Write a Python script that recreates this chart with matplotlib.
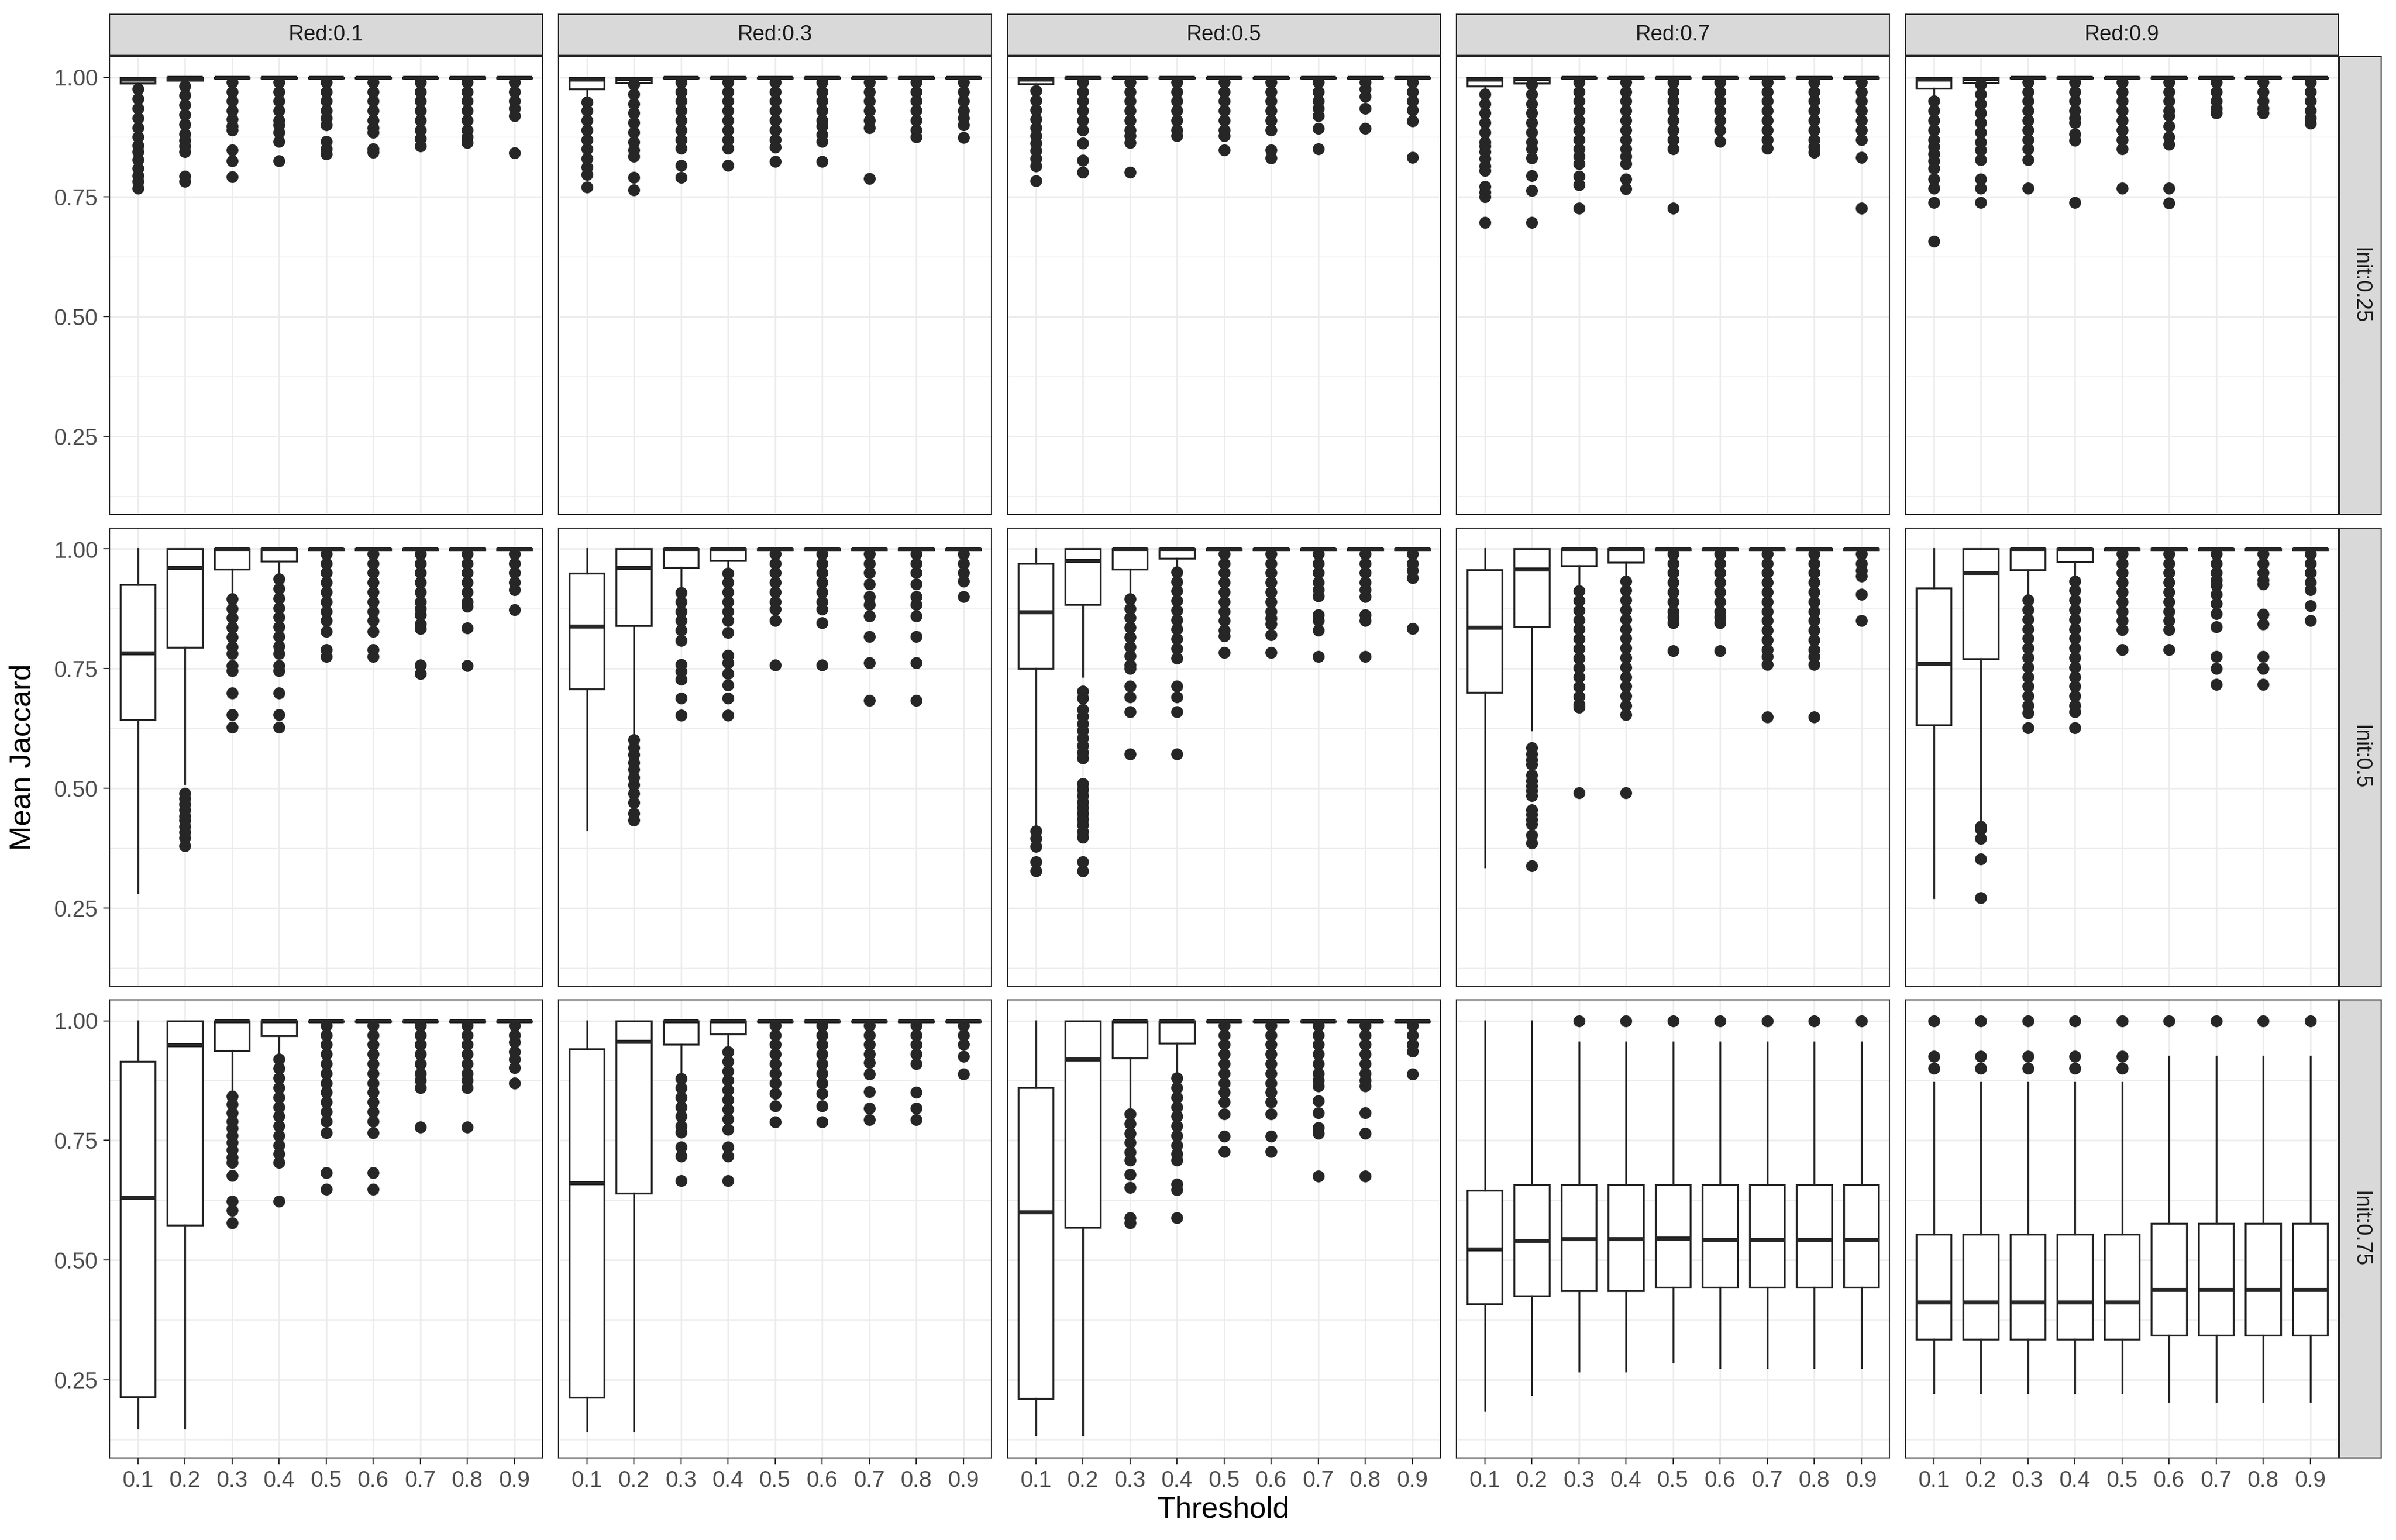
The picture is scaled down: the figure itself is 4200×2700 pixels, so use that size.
import matplotlib.pyplot as plt

thresholds = ["0.1", "0.2", "0.3", "0.4", "0.5", "0.6", "0.7", "0.8", "0.9"]
red_labels = ["Red:0.1", "Red:0.3", "Red:0.5", "Red:0.7", "Red:0.9"]
init_labels = ["Init:0.25", "Init:0.5", "Init:0.75"]

T = 0.998  # lower edge of the collapsed boxes sitting at 1.0

# ---- Init 0.25 : one row of 9 values per Red level ----
lo_25 = [[.978, .993, T, T, T, T, T, T, T],
         [.953, .989, T, T, T, T, T, T, T],
         [.975, T, T, T, T, T, T, T, T],
         [.969, .988, T, T, T, T, T, T, T],
         [.953, .989, T, T, T, T, T, T, T]]
q1_25 = [[.988, .993, T, T, T, T, T, T, T],
         [.976, .989, T, T, T, T, T, T, T],
         [.986, T, T, T, T, T, T, T, T],
         [.981, .988, T, T, T, T, T, T, T],
         [.977, .989, T, T, T, T, T, T, T]]
med_25 = [[.996, .999, 1, 1, 1, 1, 1, 1, 1],
          [.996, .997, 1, 1, 1, 1, 1, 1, 1],
          [.996, 1, 1, 1, 1, 1, 1, 1, 1],
          [.996, .997, 1, 1, 1, 1, 1, 1, 1],
          [.996, .997, 1, 1, 1, 1, 1, 1, 1]]
q3_25 = [[1] * 9 for _ in range(5)]
hi_25 = [[1] * 9 for _ in range(5)]
out_25 = [
    [[.975, .955, .935, .915, .895, .875, .858, .845, .828, .81, .795, .782, .768],
     [.982, .962, .942, .922, .902, .882, .868, .856, .845, .793, .783],
     [.99, .97, .95, .93, .912, .898, .89, .848, .825, .792],
     [.99, .97, .95, .93, .91, .9, .885, .866, .825],
     [.99, .97, .95, .93, .915, .901, .866, .85, .84],
     [.99, .97, .95, .93, .91, .895, .885, .85, .843],
     [.99, .97, .95, .93, .91, .89, .872, .856],
     [.99, .97, .95, .93, .91, .89, .875, .863],
     [.99, .97, .95, .935, .92, .842]],
    [[.948, .93, .91, .89, .87, .85, .83, .812, .797, .771],
     [.985, .965, .945, .925, .905, .885, .865, .848, .835, .791, .765],
     [.99, .97, .95, .93, .91, .89, .87, .852, .816, .791],
     [.99, .97, .95, .93, .91, .89, .87, .852, .816],
     [.99, .97, .95, .93, .91, .89, .87, .854, .824],
     [.99, .97, .95, .93, .91, .898, .88, .866, .824],
     [.99, .97, .95, .93, .91, .895, .788],
     [.99, .97, .95, .93, .91, .89, .875],
     [.99, .97, .95, .93, .915, .9, .874]],
    [[.972, .952, .932, .912, .895, .878, .862, .847, .83, .815, .784],
     [.99, .97, .95, .93, .91, .89, .862, .827, .802],
     [.99, .97, .95, .93, .91, .89, .878, .863, .802],
     [.99, .97, .95, .93, .91, .89, .878],
     [.99, .97, .95, .93, .91, .89, .878, .848],
     [.99, .97, .95, .93, .91, .89, .848, .831],
     [.99, .97, .95, .935, .92, .893, .85],
     [.99, .975, .96, .935, .893],
     [.99, .97, .95, .932, .909, .832]],
    [[.965, .945, .925, .905, .885, .865, .856, .845, .83, .815, .805, .772, .76, .75, .697],
     [.985, .965, .945, .925, .905, .885, .865, .85, .831, .795, .763, .697],
     [.99, .97, .95, .93, .91, .89, .87, .85, .835, .82, .793, .775, .726],
     [.99, .97, .95, .93, .91, .89, .87, .85, .835, .82, .787, .767],
     [.99, .97, .95, .93, .91, .89, .87, .85, .726],
     [.99, .97, .95, .93, .91, .89, .866],
     [.99, .97, .95, .93, .91, .89, .87, .852],
     [.99, .97, .95, .93, .91, .89, .87, .855, .843],
     [.99, .97, .95, .93, .91, .89, .87, .832, .726]],
    [[.95, .93, .91, .89, .87, .855, .84, .825, .81, .787, .768, .738, .657],
     [.985, .965, .945, .925, .905, .885, .865, .848, .828, .787, .768, .738],
     [.99, .97, .95, .93, .91, .89, .87, .85, .828, .768],
     [.99, .97, .95, .93, .915, .905, .882, .868, .738],
     [.99, .97, .95, .93, .91, .89, .87, .85, .768],
     [.99, .97, .95, .93, .92, .898, .876, .86, .768, .737],
     [.99, .97, .95, .935, .926],
     [.99, .97, .95, .935, .926],
     [.99, .97, .95, .93, .915, .904]],
]

# ---- Init 0.5 ----
lo_50 = [[.282, .51, .902, .94, T, T, T, T, T],
         [.413, .61, .915, .95, T, T, T, T, T],
         [.42, .734, .90, .955, T, T, T, T, T],
         [.336, .622, .918, .937, T, T, T, T, T],
         [.271, .427, .90, .937, T, T, T, T, T]]
q1_50 = [[.643, .795, .958, .974, T, T, T, T, T],
         [.708, .84, .961, .975, T, T, T, T, T],
         [.75, .884, .958, .98, T, T, T, T, T],
         [.70, .837, .965, .972, T, T, T, T, T],
         [.632, .77, .956, .973, T, T, T, T, T]]
med_50 = [[.783, .961, 1, 1, 1, 1, 1, 1, 1],
          [.838, .961, 1, 1, 1, 1, 1, 1, 1],
          [.868, .975, 1, 1, 1, 1, 1, 1, 1],
          [.836, .958, 1, 1, 1, 1, 1, 1, 1],
          [.761, .95, 1, 1, 1, 1, 1, 1, 1]]
q3_50 = [[.925, 1, 1, 1, 1, 1, 1, 1, 1],
         [.949, 1, 1, 1, 1, 1, 1, 1, 1],
         [.97, 1, 1, 1, 1, 1, 1, 1, 1],
         [.956, 1, 1, 1, 1, 1, 1, 1, 1],
         [.918, 1, 1, 1, 1, 1, 1, 1, 1]]
hi_50 = [[1] * 9 for _ in range(5)]
out_50 = [
    [[],
     [.489, .479, .467, .455, .442, .433, .42, .408, .396, .38],
     [.896, .876, .856, .836, .816, .796, .781, .756, .745, .699, .654, .627],
     [.937, .917, .897, .877, .857, .837, .817, .797, .781, .756, .745, .699, .654, .627],
     [.99, .97, .95, .93, .91, .89, .87, .85, .828, .79, .775],
     [.99, .97, .95, .93, .91, .89, .87, .85, .828, .79, .775],
     [.99, .97, .95, .93, .91, .89, .875, .862, .843, .834, .757, .74],
     [.99, .97, .95, .93, .91, .89, .88, .835, .756],
     [.99, .97, .95, .93, .915, .873]],
    [[],
     [.601, .585, .57, .554, .539, .523, .507, .489, .47, .448, .433],
     [.909, .89, .87, .85, .83, .809, .759, .744, .728, .688, .652],
     [.949, .93, .91, .89, .87, .85, .825, .778, .762, .74, .716, .688, .652],
     [.99, .97, .95, .93, .91, .89, .874, .85, .758],
     [.99, .97, .95, .93, .91, .89, .874, .846, .758],
     [.99, .97, .95, .927, .9, .884, .86, .817, .762, .683],
     [.99, .97, .95, .927, .9, .884, .86, .817, .762, .683],
     [.99, .97, .95, .933, .9]],
    [[.411, .395, .378, .346, .327],
     [.703, .688, .665, .65, .635, .62, .605, .59, .575, .563, .51, .498, .485, .472,
      .46, .448, .436, .424, .41, .397, .346, .327],
     [.896, .876, .856, .836, .816, .796, .776, .758, .75, .713, .691, .66, .571],
     [.952, .932, .912, .892, .872, .852, .832, .812, .792, .772, .713, .691, .66, .571],
     [.99, .97, .95, .93, .91, .89, .87, .85, .83, .818, .784],
     [.99, .97, .95, .93, .91, .89, .87, .855, .843, .821, .784],
     [.99, .97, .95, .93, .915, .902, .862, .85, .83, .775],
     [.99, .97, .95, .93, .915, .9, .862, .85, .775],
     [.99, .97, .955, .94, .834]],
    [[],
     [.585, .572, .56, .55, .528, .515, .505, .495, .485, .455, .445, .435, .425, .402, .386, .338],
     [.912, .892, .872, .852, .832, .812, .792, .772, .752, .732, .712, .692, .675, .669, .49],
     [.933, .913, .893, .873, .853, .833, .813, .793, .773, .753, .733, .713, .693, .673, .654, .49],
     [.99, .97, .95, .93, .91, .89, .87, .858, .846, .787],
     [.99, .97, .95, .93, .91, .89, .87, .858, .846, .787],
     [.99, .97, .95, .93, .91, .89, .87, .85, .83, .81, .79, .775, .759, .649],
     [.99, .97, .95, .93, .91, .89, .87, .85, .83, .81, .79, .775, .759, .649],
     [.99, .97, .955, .943, .905, .851]],
    [[],
     [.42, .414, .395, .352, .271],
     [.893, .873, .853, .833, .813, .793, .773, .753, .733, .713, .693, .673, .657, .626],
     [.933, .913, .893, .873, .853, .833, .813, .793, .773, .753, .733, .713, .693, .673, .66, .626],
     [.99, .97, .95, .93, .91, .89, .87, .85, .831, .79],
     [.99, .97, .95, .93, .91, .89, .87, .85, .831, .79],
     [.99, .97, .95, .935, .924, .905, .886, .865, .837, .775, .75, .717],
     [.99, .97, .95, .935, .927, .863, .843, .775, .75, .717],
     [.99, .97, .95, .93, .915, .881, .85]],
]

# ---- Init 0.75 ----
lo_75 = [[.148, .148, .846, .922, T, T, T, T, T],
         [.143, .143, .882, .938, T, T, T, T, T],
         [.134, .134, .808, .883, T, T, T, T, T],
         [.185, .219, .268, .268, .287, .275, .275, .275, .275],
         [.222, .222, .222, .222, .222, .204, .204, .204, .204]]
q1_75 = [[.214, .573, .937, .969, T, T, T, T, T],
         [.213, .639, .95, .972, T, T, T, T, T],
         [.21, .568, .922, .953, T, T, T, T, T],
         [.408, .425, .436, .436, .443, .443, .443, .443, .443],
         [.334, .334, .334, .334, .334, .343, .343, .343, .343]]
med_75 = [[.63, .949, 1, 1, 1, 1, 1, 1, 1],
          [.661, .956, 1, 1, 1, 1, 1, 1, 1],
          [.60, .919, 1, 1, 1, 1, 1, 1, 1],
          [.523, .54, .544, .544, .545, .543, .543, .543, .543],
          [.412, .412, .412, .412, .412, .438, .438, .438, .438]]
q3_75 = [[.915, 1, 1, 1, 1, 1, 1, 1, 1],
         [.941, 1, 1, 1, 1, 1, 1, 1, 1],
         [.86, 1, 1, 1, 1, 1, 1, 1, 1],
         [.646, .657, .657, .657, .657, .657, .657, .657, .657],
         [.554, .554, .554, .554, .554, .576, .576, .576, .576]]
hi_75 = [[1] * 9, [1] * 9, [1] * 9,
         [1, 1, .955, .955, .955, .955, .955, .955, .955],
         [.871, .871, .871, .871, .871, .925, .925, .925, .925]]
out_75 = [
    [[], [],
     [.842, .825, .808, .79, .775, .76, .745, .73, .715, .704, .677, .623, .604, .578],
     [.919, .9, .88, .86, .84, .82, .8, .78, .76, .74, .722, .704, .623],
     [.99, .97, .95, .93, .91, .89, .87, .85, .83, .81, .79, .766, .682, .648],
     [.99, .97, .95, .93, .91, .89, .87, .85, .83, .81, .79, .766, .682, .648],
     [.99, .97, .95, .93, .91, .89, .875, .86, .778],
     [.99, .97, .95, .93, .91, .89, .875, .86, .778],
     [.99, .97, .955, .935, .919, .902, .869]],
    [[], [],
     [.879, .86, .84, .82, .8, .78, .767, .736, .717, .666],
     [.935, .915, .895, .875, .855, .835, .815, .795, .773, .736, .717, .666],
     [.99, .97, .95, .93, .91, .89, .87, .848, .822, .789],
     [.99, .97, .95, .93, .91, .89, .87, .848, .822, .789],
     [.99, .97, .95, .93, .913, .889, .852, .817, .793],
     [.99, .97, .95, .93, .91, .851, .817, .793],
     [.99, .97, .95, .925, .888]],
    [[], [],
     [.805, .785, .765, .745, .725, .709, .679, .651, .588, .578],
     [.88, .86, .84, .82, .8, .78, .76, .74, .722, .709, .659, .647, .588],
     [.99, .97, .95, .93, .91, .89, .87, .85, .83, .805, .759, .726],
     [.99, .97, .95, .93, .91, .89, .87, .85, .83, .805, .759, .726],
     [.99, .97, .95, .93, .91, .89, .875, .864, .833, .808, .777, .765, .675],
     [.99, .97, .95, .93, .91, .89, .875, .864, .808, .765, .675],
     [.99, .97, .95, .936, .889]],
    [[], [], [1.0], [1.0], [1.0], [1.0], [1.0], [1.0], [1.0]],
    [[.925, .901, 1.0], [.925, .901, 1.0], [.925, .901, 1.0], [.925, .901, 1.0],
     [.925, .901, 1.0], [1.0], [1.0], [1.0], [1.0]],
]

rows = [(lo_25, q1_25, med_25, q3_25, hi_25, out_25),
        (lo_50, q1_50, med_50, q3_50, hi_50, out_50),
        (lo_75, q1_75, med_75, q3_75, hi_75, out_75)]

W, H = 4200, 2700
dark = "#262626"
plt.rcParams["font.family"] = ["Liberation Sans", "DejaVu Sans"]

fig = plt.figure(figsize=(14, 9), dpi=300)

pw, ph = 759, 803
pgap_x, pgap_y = 28, 24
left0, top0 = 192, 99


def frac(x, y, w, h):
    return [x / W, 1 - (y + h) / H, w / W, h / H]


for r, (lo, q1, med, q3, hi, out) in enumerate(rows):
    for c in range(5):
        x0 = left0 + c * (pw + pgap_x)
        y0 = top0 + r * (ph + pgap_y)
        ax = fig.add_axes(frac(x0, y0, pw, ph))
        stats = [dict(whislo=lo[c][i], q1=q1[c][i], med=med[c][i], q3=q3[c][i],
                      whishi=hi[c][i], fliers=out[c][i]) for i in range(9)]
        ax.bxp(stats, positions=range(1, 10), widths=0.75, showcaps=False,
               patch_artist=True,
               boxprops=dict(facecolor="white", edgecolor=dark, linewidth=0.8),
               whiskerprops=dict(color=dark, linewidth=0.8),
               medianprops=dict(color=dark, linewidth=1.7, solid_capstyle="butt"),
               flierprops=dict(marker="o", markerfacecolor=dark, markeredgecolor=dark,
                               markersize=4.7, markeredgewidth=0.3))
        ax.set_xlim(0.4, 9.6)
        ax.set_ylim(0.0865, 1.0435)
        ax.set_xticks(range(1, 10))
        ax.set_xticklabels(thresholds)
        ax.set_yticks([0.25, 0.5, 0.75, 1.0])
        ax.set_yticklabels(["0.25", "0.50", "0.75", "1.00"])
        ax.set_yticks([0.125, 0.375, 0.625, 0.875], minor=True)
        ax.set_axisbelow(True)
        ax.grid(which="major", color="#EBEBEB", linewidth=0.6)
        ax.grid(which="minor", axis="y", color="#EBEBEB", linewidth=0.35)
        for s in ax.spines.values():
            s.set_color("#333333")
            s.set_linewidth(0.5)
        ax.tick_params(which="minor", length=0)
        ax.tick_params(which="major", length=2.75, width=0.5, color="#333333",
                       labelcolor="#4D4D4D", labelsize=9.5, pad=2.2)
        if c != 0:
            ax.tick_params(axis="y", length=0, labelleft=False)
        if r != 2:
            ax.tick_params(axis="x", length=0, labelbottom=False)

        if r == 0:
            sa = fig.add_axes(frac(x0, 25, pw, 72))
            sa.set_facecolor("#D9D9D9")
            sa.set_xticks([])
            sa.set_yticks([])
            for s in sa.spines.values():
                s.set_color("#333333")
                s.set_linewidth(0.5)
            sa.text(0.5, 0.5, red_labels[c], ha="center", va="center",
                    fontsize=9, color="#1A1A1A", transform=sa.transAxes)
        if c == 4:
            sa = fig.add_axes(frac(x0 + pw + 2, y0, 73, ph))
            sa.set_facecolor("#D9D9D9")
            sa.set_xticks([])
            sa.set_yticks([])
            for s in sa.spines.values():
                s.set_color("#333333")
                s.set_linewidth(0.5)
            sa.text(0.5, 0.5, init_labels[r], ha="center", va="center", rotation=-90,
                    fontsize=9, color="#1A1A1A", transform=sa.transAxes)

fig.text(40 / W, 1 - 1327 / H, "Mean Jaccard", rotation=90, ha="center", va="center",
         fontsize=12.5, color="black")
fig.text(2145 / W, 1 - 2647 / H, "Threshold", ha="center", va="center",
         fontsize=12.5, color="black")

fig.savefig("out.png", dpi=300, facecolor="white")
